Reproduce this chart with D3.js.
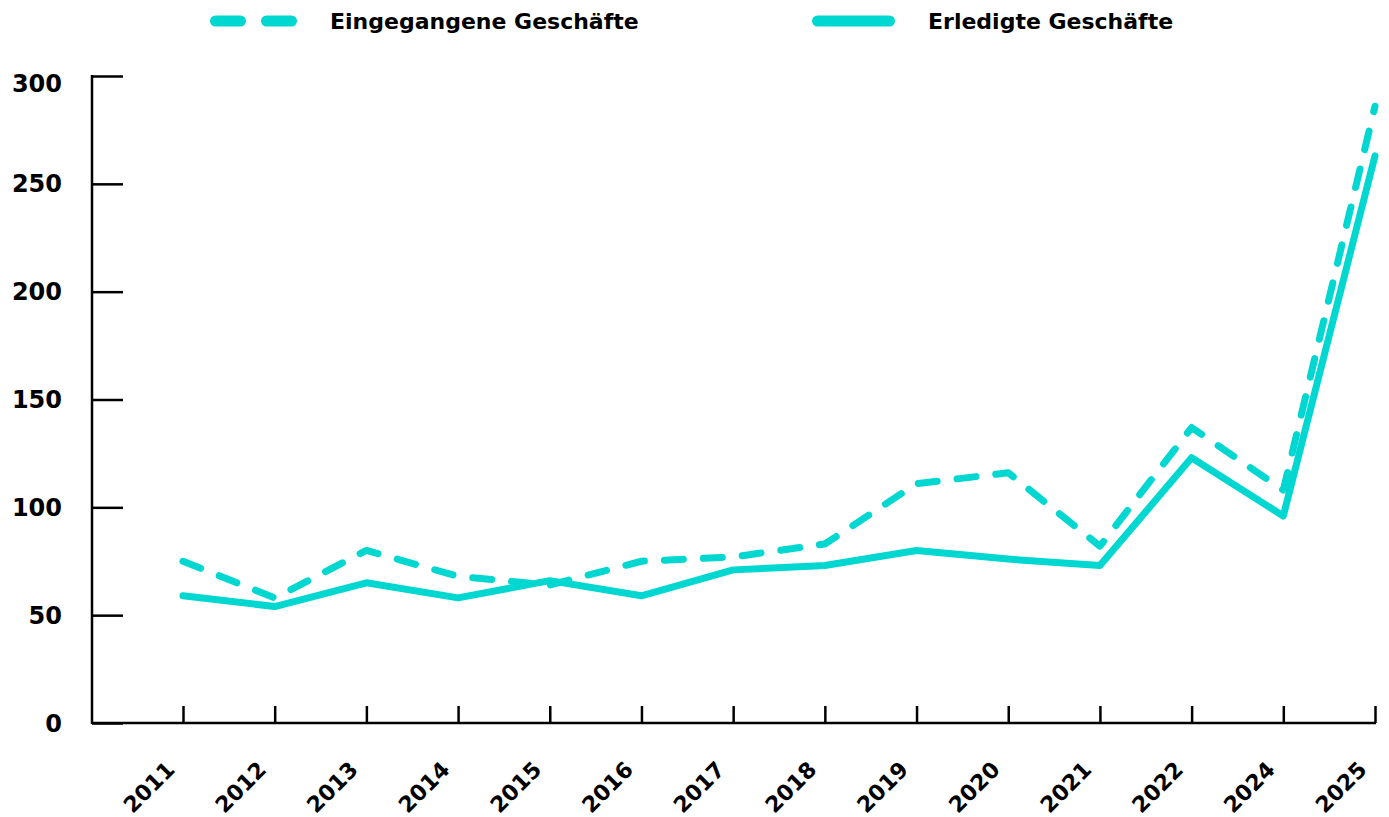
<!DOCTYPE html>
<html>
<head>
<meta charset="utf-8">
<script src="https://cdn.jsdelivr.net/npm/d3@7"></script>
<style>
  body { margin: 0; background: #fff; }
  text { font-family: "DejaVu Sans", Inter, sans-serif; font-weight: 700; fill: #000; }
</style>
</head>
<body>
<script>
var years = ["2011", "2012", "2013", "2014", "2015", "2016", "2017", "2018", "2019", "2020", "2021", "2022", "2024", "2025"];
var eingegangen = [75, 58, 80, 68, 64, 75, 77, 83, 111, 116, 82, 137, 108, 286];
var erledigt = [59, 54, 65, 58, 66, 59, 71, 73, 80, 76, 73, 123, 96, 263];
var yTicks = [0, 50, 100, 150, 200, 250, 300];
var seriesNames = ["Eingegangene Geschäfte", "Erledigte Geschäfte"];

var W = 1389, H = 817;
var color = "#00d7d1";

var svg = d3.select("body").append("svg")
    .attr("width", W)
    .attr("height", H);

var x = d3.scalePoint().domain(years).range([183, 1375]);
var y = d3.scaleLinear().domain([0, 300]).range([723, 76]);
var axisLeft = 92;

// y axis, ticks point inward
var yAxis = svg.append("g")
    .attr("transform", "translate(" + axisLeft + ",0)")
    .call(d3.axisRight(y).tickValues(yTicks).tickSize(31).tickFormat(""));
yAxis.select(".domain").remove();
yAxis.selectAll("line").attr("stroke", "#000").attr("stroke-width", 2.5);
svg.append("line")
    .attr("x1", axisLeft).attr("x2", axisLeft)
    .attr("y1", y(300) - 1).attr("y2", y(0) + 1)
    .attr("stroke", "#000").attr("stroke-width", 2.5);

svg.selectAll("text.ylab")
    .data(yTicks)
    .enter().append("text")
    .attr("class", "ylab")
    .attr("x", 62)
    .attr("y", function(d) { return Math.max(y(d), 83); })
    .attr("dy", "0.36em")
    .attr("text-anchor", "end")
    .style("font-size", "24px")
    .text(function(d) { return d; });

// x axis, ticks point up
var xAxis = svg.append("g")
    .attr("transform", "translate(0," + y(0) + ")")
    .call(d3.axisTop(x).tickSize(17).tickFormat(""));
xAxis.select(".domain").remove();
xAxis.selectAll("line").attr("stroke", "#000").attr("stroke-width", 2.5);
svg.append("line")
    .attr("x1", axisLeft).attr("x2", x(years[years.length - 1]) + 1)
    .attr("y1", y(0)).attr("y2", y(0))
    .attr("stroke", "#000").attr("stroke-width", 2.5);

svg.selectAll("text.xlab")
    .data(years)
    .enter().append("text")
    .attr("class", "xlab")
    .attr("transform", function(d) { return "translate(" + (x(d) - 7) + ",771) rotate(-45)"; })
    .attr("text-anchor", "end")
    .style("font-size", "22px")
    .text(function(d) { return d; });

// lines
var line = d3.line()
    .x(function(d, i) { return x(years[i]); })
    .y(function(d) { return y(d); });

svg.append("path")
    .datum(erledigt)
    .attr("d", line)
    .attr("fill", "none")
    .attr("stroke", color)
    .attr("stroke-width", 7)
    .attr("stroke-linejoin", "round")
    .attr("stroke-linecap", "round");

svg.append("path")
    .datum(eingegangen)
    .attr("d", line)
    .attr("fill", "none")
    .attr("stroke", color)
    .attr("stroke-width", 7)
    .attr("stroke-dasharray", "19 20")
    .attr("stroke-linejoin", "round")
    .attr("stroke-linecap", "round");

// legend
var legend = svg.selectAll("g.legend")
    .data(seriesNames)
    .enter().append("g")
    .attr("class", "legend")
    .attr("transform", function(d, i) { return "translate(" + (i === 0 ? 215.5 : 817.5) + ",21)"; });

legend.append("line")
    .attr("x1", 0).attr("x2", function(d, i) { return i === 0 ? 77 : 72; })
    .attr("stroke", color)
    .attr("stroke-width", 11)
    .attr("stroke-linecap", "round")
    .attr("stroke-dasharray", function(d, i) { return i === 0 ? "25 26" : null; });

legend.append("text")
    .attr("x", function(d, i) { return i === 0 ? 114.5 : 110.5; })
    .attr("y", 8)
    .style("font-size", "22px")
    .text(function(d) { return d; });
</script>
</body>
</html>
